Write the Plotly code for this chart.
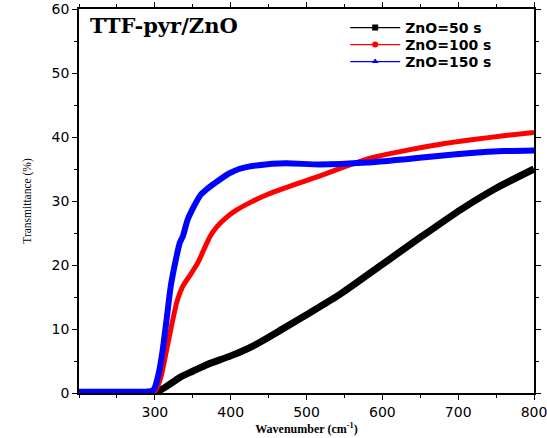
import plotly.graph_objects as go

wn_black = [301, 315, 334, 350, 370, 400, 432, 467, 504, 544, 600, 650, 704, 750, 800]
t_black = [0.0, 1.0, 2.5, 3.4, 4.5, 5.8, 7.5, 9.9, 12.5, 15.4, 20.1, 24.3, 28.7, 32.0, 35.0]

wn_red = [200, 250, 298, 301, 308, 315, 322, 329, 337, 347, 357, 365, 373, 382, 393, 408, 428, 450, 473, 495, 517, 540, 561, 584, 610, 640, 673, 720, 760, 800]
t_red = [0.2, 0.2, 0.2, 0.4, 2.5, 6.4, 10.5, 14.2, 16.7, 18.5, 20.4, 22.5, 24.5, 26.0, 27.3, 28.6, 29.9, 31.1, 32.1, 33.0, 33.9, 34.9, 35.8, 36.7, 37.4, 38.1, 38.8, 39.6, 40.2, 40.7]

wn_blue = [200, 250, 295, 299, 305, 310, 315, 321, 328, 333, 337, 343, 350, 360, 368, 384, 398, 411, 437, 473, 517, 580, 628, 670, 717, 760, 800]
t_blue = [0.2, 0.2, 0.3, 0.6, 3.0, 6.4, 11.0, 16.7, 21.0, 23.5, 24.5, 27.0, 28.8, 30.9, 31.8, 33.2, 34.3, 35.0, 35.6, 35.9, 35.7, 36.0, 36.5, 37.0, 37.5, 37.8, 37.9]

names = ["ZnO=50 s", "ZnO=100 s", "ZnO=150 s"]
colors = ["black", "red", "blue"]
symbols = ["square", "circle", "triangle-up"]
widths = [7, 5, 6]

x_ticks = [300, 400, 500, 600, 700, 800]

fig = go.Figure()
for x, y, n, c, w in zip([wn_black, wn_red, wn_blue], [t_black, t_red, t_blue], names, colors, widths):
    fig.add_trace(go.Scatter(x=x, y=y, name=n, mode="lines", showlegend=False, legendgroup=n,
                             line=dict(color=c, width=w, shape="spline", smoothing=0.6)))
legend_ids = ["legend", "legend2", "legend3"]
for n, c, s, lid in zip(names, colors, symbols, legend_ids):
    fig.add_trace(go.Scatter(x=[None], y=[None], name=n, mode="lines+markers", legendgroup=n,
                             legend=lid,
                             line=dict(color=c, width=1.2),
                             marker=dict(color=c, symbol=s, size=6)))

axis_common = dict(showline=True, linecolor="black", linewidth=1.5, mirror="ticks",
                   ticks="outside", ticklen=5, tickwidth=1.2, tickcolor="black",
                   showgrid=False, zeroline=False, automargin=False,
                   ticklabeloverflow="allow",
                   tickfont=dict(family="DejaVu Sans", size=14, color="black"))

leg_font = dict(family="DejaVu Sans", size=14, color="black", weight="bold")
leg_common = dict(x=0.585, xanchor="left", yanchor="middle", bgcolor="rgba(0,0,0,0)",
                  font=leg_font, itemwidth=50)

fig.update_layout(
    width=547, height=438,
    margin=dict(l=79, r=13, t=9, b=45),
    plot_bgcolor="white", paper_bgcolor="white",
    xaxis=dict(range=[200, 800], tickvals=x_ticks,
               minor=dict(dtick=50, tick0=0, ticks="outside", ticklen=3, tickcolor="black"),
               title=dict(text="<b>Wavenumber (cm<sup>-1</sup>)</b>", standoff=6,
                          font=dict(family="Liberation Serif, Times New Roman", size=12, color="black")),
               **axis_common),
    yaxis=dict(range=[0, 60], dtick=10,
               minor=dict(dtick=5, ticks="outside", ticklen=3, tickcolor="black"),
               title=dict(text="Transmittance (%)", standoff=18,
                          font=dict(family="Liberation Serif, Times New Roman", size=11.5, color="black")),
               **axis_common),
    legend=dict(y=1 - (28 - 9) / 384, **leg_common),
    legend2=dict(y=1 - (45 - 9) / 384, **leg_common),
    legend3=dict(y=1 - (62 - 9) / 384, **leg_common),
    showlegend=True,
)
fig.add_annotation(x=0.02, y=0.995, xref="paper", yref="paper", xanchor="left", yanchor="top",
                   text="<b>TTF-pyr/ZnO</b>", showarrow=False,
                   font=dict(family="DejaVu Serif", size=21, color="black"))

fig.write_html("out.html")
